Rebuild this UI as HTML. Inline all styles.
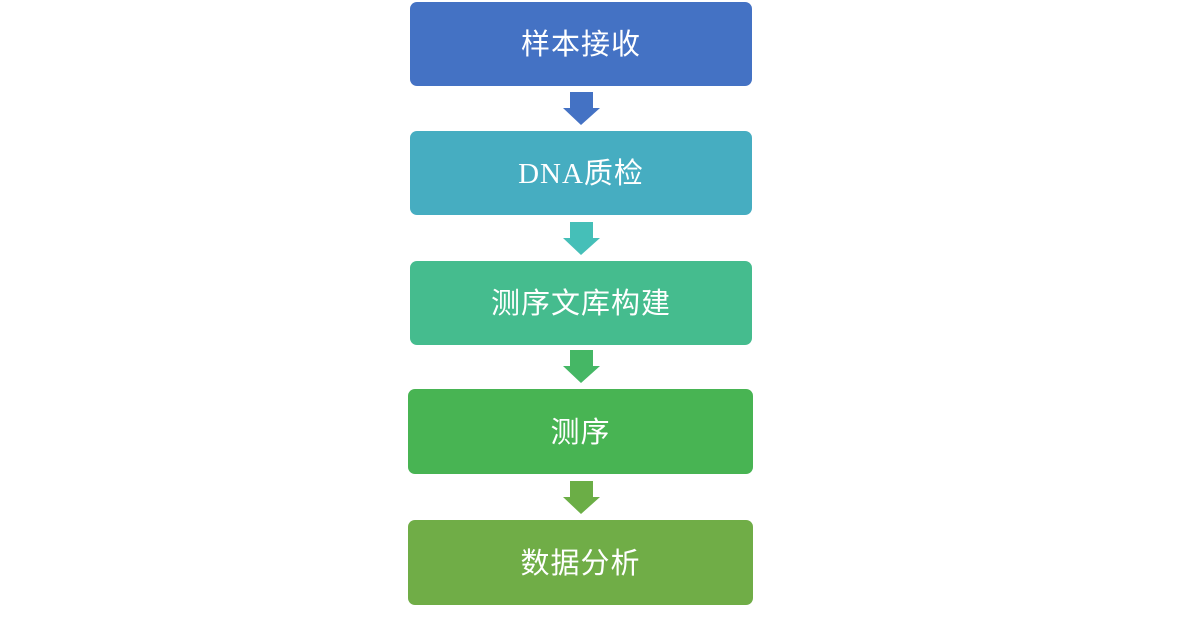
<!DOCTYPE html>
<html><head><meta charset="utf-8"><style>
html,body{margin:0;padding:0;background:#fff;width:1177px;height:618px;overflow:hidden}
.b{position:absolute;border-radius:7px;color:#fff;display:flex;align-items:center;justify-content:center;font-family:"Liberation Serif","Noto Sans CJK SC",serif;font-size:29px;letter-spacing:1px;box-sizing:border-box;padding-bottom:4px}
svg{position:absolute;left:0;top:0}
</style></head><body>
<div class="b" style="left:410px;top:2px;width:342px;height:84px;background:#4472C4">样本接收</div>
<div class="b" style="left:410px;top:131px;width:342px;height:84px;background:#46ADC1">DNA质检</div>
<div class="b" style="left:410px;top:261px;width:342px;height:84px;background:#45BC8E">测序文库构建</div>
<div class="b" style="left:408px;top:389px;width:345px;height:85px;background:#48B453">测序</div>
<div class="b" style="left:408px;top:520px;width:345px;height:85px;background:#70AD47">数据分析</div>
<svg width="1177" height="618">
<polygon points="570,92 593,92 593,108 600,108 581,125 563,108 570,108" fill="#4472C4"/>
<polygon points="570,222 593,222 593,238 600,238 581,255 563,238 570,238" fill="#45BFB8"/>
<polygon points="570,350 593,350 593,366 600,366 581,383 563,366 570,366" fill="#45B765"/>
<polygon points="570,481 593,481 593,497 600,497 581,514 563,497 570,497" fill="#6BAE46"/>
</svg>
</body></html>
